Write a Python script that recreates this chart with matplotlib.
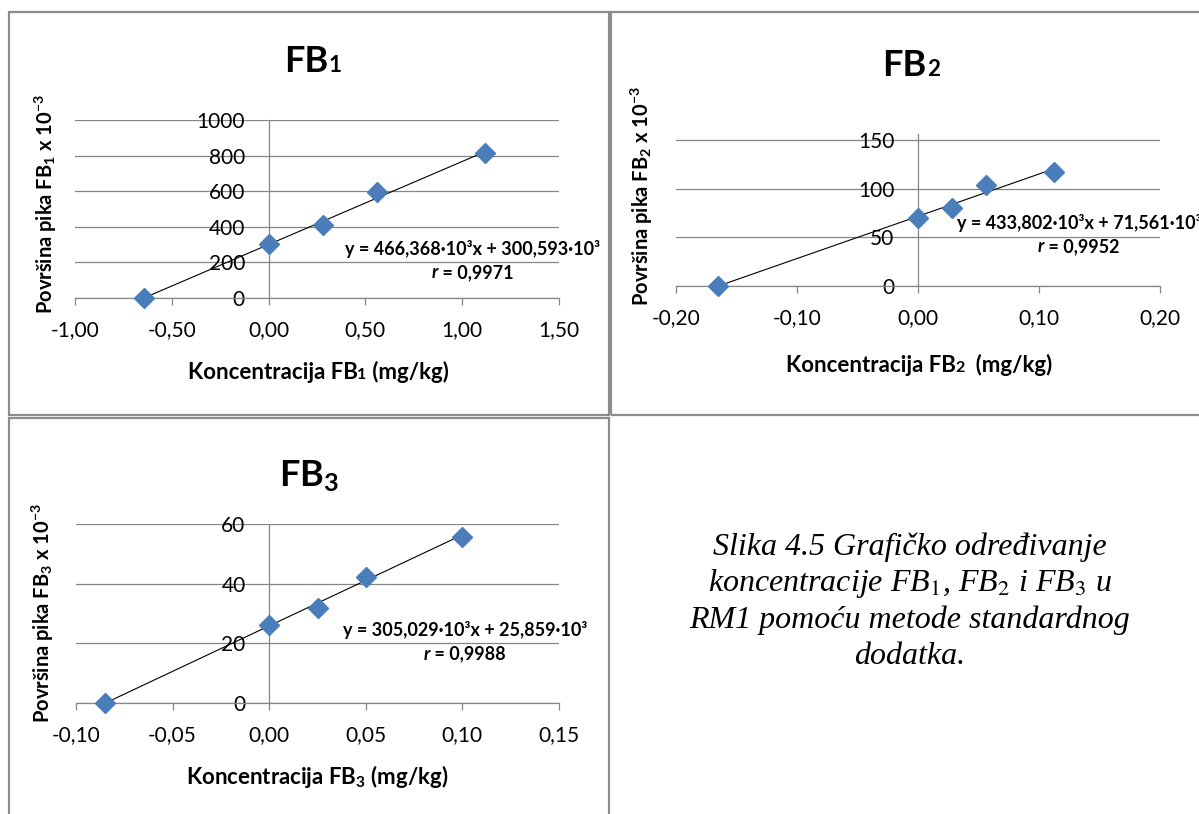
import numpy as np
import matplotlib
matplotlib.use("Agg")
from matplotlib import pyplot as plt
from matplotlib.patches import Rectangle
from matplotlib.ticker import FuncFormatter, MultipleLocator
from matplotlib.offsetbox import TextArea, HPacker, AnnotationBbox

# standard addition data, y values are peak area x 10^-3
conc_fb1 = [-0.645, 0.0, 0.28, 0.56, 1.12]
area_fb1 = [0, 303, 411, 598, 812]
conc_fb2 = [-0.165, 0.0, 0.028, 0.056, 0.112]
area_fb2 = [0, 70, 80, 104, 117]
conc_fb3 = [-0.085, 0.0, 0.025, 0.05, 0.10]
area_fb3 = [0, 26, 32, 42.3, 55.8]

slopes = [466.368, 433.802, 305.029]
intercepts = [300.593, 71.561, 25.859]
r_values = ["0,9971", "0,9952", "0,9988"]
equations = ["y = 466,368·10³x + 300,593·10³",
             "y = 433,802·10³x + 71,561·10³",
             "y = 305,029·10³x + 25,859·10³"]

W, H = 1199, 814
FONT = "Lato"
GRID = "#868686"
BLUE = "#4A7EBB"

plt.rcParams["font.family"] = FONT
plt.rcParams["mathtext.fontset"] = "custom"
plt.rcParams["mathtext.rm"] = "Lato:bold"
plt.rcParams["mathtext.it"] = "Lato:italic:bold"
plt.rcParams["mathtext.bf"] = "Lato:bold"

fig = plt.figure(figsize=(W / 100, H / 100), dpi=100)


def fx(px):
    return px / W


def fy(py):
    return 1 - py / H


def rich_text(x, y, parts, size, weight="bold"):
    # parts: list of (text, relative size, style); packed on common baseline
    areas = [TextArea(t, textprops=dict(size=size * s, weight=weight, style=st,
                                        family=FONT, color="black"))
             for t, s, st in parts]
    box = HPacker(children=areas, align="baseline", pad=0, sep=0)
    ab = AnnotationBbox(box, (fx(x), fy(y)), xycoords="figure fraction",
                        frameon=False, box_alignment=(0.5, 0.5), pad=0)
    fig.add_artist(ab)


def panel(rect, x, y, m, b, xlim, xstep, ylim, ystep, ytop):
    left, top, right, bottom = rect
    ax = fig.add_axes([fx(left), fy(bottom), fx(right - left), (bottom - top) / H])
    ax.set_xlim(*xlim)
    ax.set_ylim(0, ytop)
    ax.xaxis.set_major_locator(MultipleLocator(xstep))
    ax.set_yticks(np.arange(0, ylim + ystep / 2, ystep))
    ax.xaxis.set_major_formatter(FuncFormatter(lambda v, _: f"{v:.2f}".replace(".", ",")))
    ax.yaxis.set_major_formatter(FuncFormatter(lambda v, _: f"{v:.0f}"))
    for s in ["top", "right"]:
        ax.spines[s].set_visible(False)
    ax.spines["left"].set_position(("data", 0))
    for s in ["left", "bottom"]:
        ax.spines[s].set_color(GRID)
        ax.spines[s].set_linewidth(0.9)
    ax.yaxis.grid(True, color=GRID, linewidth=0.9)
    ax.set_axisbelow(True)
    ax.tick_params(axis="x", length=5, width=0.9, color=GRID, pad=11, labelsize=15)
    ax.tick_params(axis="y", length=0, pad=17, labelsize=15)
    ax.patch.set_visible(False)
    xs = np.array([min(x), max(x)])
    ax.plot(xs, m * xs + b, color="black", linewidth=0.8, zorder=3, clip_on=False)
    ax.plot(x, y, "D", markersize=10, color=BLUE, zorder=4, clip_on=False)
    return ax


# panel borders
for (l, t, r, btm) in [(9, 12, 609, 415), (611, 12, 1205, 415), (9, 418, 609, 820)]:
    fig.add_artist(Rectangle((fx(l), fy(btm)), fx(r - l), (btm - t) / H,
                             transform=fig.transFigure, fill=False,
                             edgecolor="#8c8c8c", linewidth=1.6))

panel((75, 120, 559, 298), conc_fb1, area_fb1, slopes[0], intercepts[0],
      (-1.0, 1.5), 0.5, 1000, 200, 1000)
panel((676, 134, 1160, 286), conc_fb2, area_fb2, slopes[1], intercepts[1],
      (-0.2, 0.2), 0.1, 150, 50, 156)
panel((76, 524, 559, 703), conc_fb3, area_fb3, slopes[2], intercepts[2],
      (-0.1, 0.15), 0.05, 60, 20, 60)

# titles
rich_text(313, 62, [("FB", 1, "normal"), ("1", 0.62, "normal")], 26)
rich_text(911, 66, [("FB", 1, "normal"), ("2", 0.62, "normal")], 26)
rich_text(309, 476, [("FB$_3$", 1, "normal")], 26)

# axis titles
rich_text(318, 372, [("Koncentracija FB", 1, "normal"), ("1", 0.72, "normal"),
                     (" (mg/kg)", 1, "normal")], 16)
rich_text(919, 365, [("Koncentracija FB", 1, "normal"), ("2", 0.72, "normal"),
                     ("  (mg/kg)", 1, "normal")], 16)
rich_text(317, 776, [("Koncentracija FB$_3$ (mg/kg)", 1, "normal")], 16)

for (px, py, n) in [(46, 204, 1), (642, 196, 2), (43, 613, 3)]:
    fig.text(fx(px), fy(py), f"Površina pika FB$_{n}$ x 10$^{{-3}}$",
             rotation=90, ha="center", va="center", size=14.5, weight="bold")

# regression equations
for (px, py, k) in [(473, 249, 0), (1079, 223, 1), (465, 630, 2)]:
    rich_text(px, py, [(equations[k], 1, "normal")], 13)
    rich_text(px, py + 24, [("r", 1, "italic"), (" = " + r_values[k], 1, "normal")], 13)

# caption
caption = ["Slika 4.5 Grafičko određivanje",
           r"koncentracije FB$_\mathit{1}$, FB$_\mathit{2}$ i FB$_\mathit{3}$ u",
           "RM1 pomoću metode standardnog",
           "dodatka."]
for i, line in enumerate(caption):
    fig.text(fx(910), fy(555 + i * 36.5), line, ha="center", va="baseline",
             family="Liberation Serif", style="italic", size=23,
             math_fontfamily="stix")

fig.savefig("out.png", dpi=100)
